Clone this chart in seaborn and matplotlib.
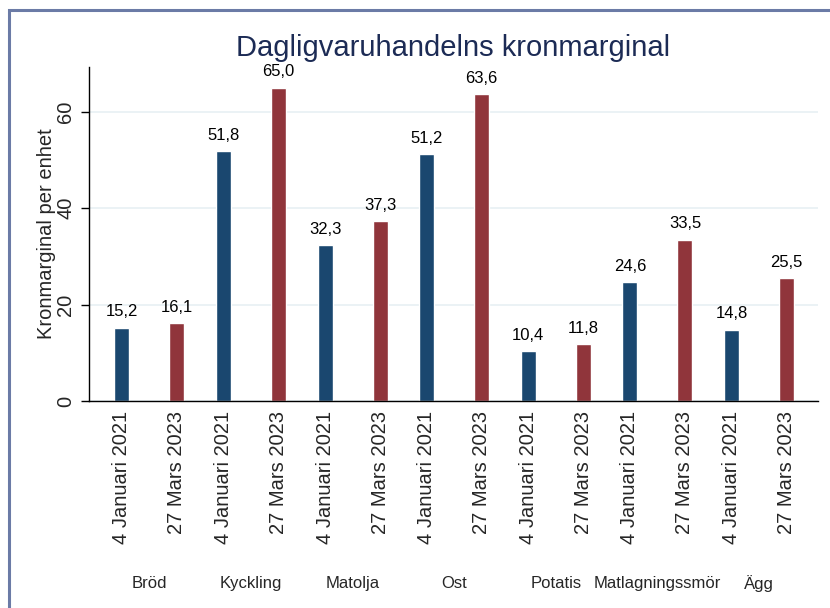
import numpy as np
import pandas as pd
import seaborn as sns
import matplotlib.pyplot as plt
from matplotlib.patches import Rectangle
from matplotlib.transforms import blended_transform_factory

# data
produkter = ["Bröd", "Kyckling", "Matolja", "Ost", "Potatis", "Matlagningssmör", "Ägg"]
datum = ["4 Januari 2021", "27 Mars 2023"]
marginal_2021 = [15.2, 51.8, 32.3, 51.2, 10.4, 24.6, 14.8]
marginal_2023 = [16.1, 65.0, 37.3, 63.6, 11.8, 33.5, 25.5]

df = pd.DataFrame({
    "produkt": produkter * 2,
    "datum": [datum[0]] * len(produkter) + [datum[1]] * len(produkter),
    "marginal": marginal_2021 + marginal_2023,
})

sns.set_style("white")
plt.rcParams["font.family"] = ["Liberation Sans", "DejaVu Sans"]

blue = "#1a476f"
red = "#90353b"

fig = plt.figure(figsize=(8.3, 6.08), dpi=100)
ax = fig.add_axes([0.1072, 0.3405, 0.8783, 0.5493])

sns.barplot(data=df, x="produkt", y="marginal", hue="datum", hue_order=datum,
            order=produkter, palette=[blue, red], width=1.083, gap=0.727,
            saturation=1, legend=False, ax=ax)

ax.set_ylim(0, 69.3)
ax.set_xlim(-0.595, 6.58)

# value labels with decimal comma
for cont in ax.containers:
    vals = [b.get_height() for b in cont]
    ax.bar_label(cont, labels=[f"{v:.1f}".replace(".", ",") for v in vals],
                 padding=6, fontsize=12, color="black")

# date labels under every bar
bars = [p for p in ax.patches if p.get_width() > 0]
pos = sorted(p.get_x() + p.get_width() / 2 for p in bars)
ax.set_xticks(pos)
ax.set_xticklabels([datum[k % 2] for k in range(len(pos))],
                   rotation=90, fontsize=14.5)
ax.tick_params(axis="x", length=0, pad=7)
ax.set_xlabel("")

# group names
trans = blended_transform_factory(ax.transData, fig.transFigure)
for i, name in enumerate(produkter):
    ax.text(i, 0.041, name, transform=trans, ha="center", va="center", fontsize=12)

ax.set_yticks([0, 20, 40, 60])
ax.set_yticklabels(["0", "20", "40", "60"], rotation=90, va="center", fontsize=14.5)
ax.tick_params(axis="y", length=6, width=1, color="black", left=True, pad=4)
ax.set_ylabel("Kronmarginal per enhet", fontsize=14.5, labelpad=0)
ax.yaxis.grid(True, color="#e8f0f3", linewidth=1.2)
ax.set_axisbelow(True)

sns.despine(ax=ax)
for s in ["left", "bottom"]:
    ax.spines[s].set_color("black")
    ax.spines[s].set_linewidth(1)

fig.text(0.546, 0.921, "Dagligvaruhandelns kronmarginal", ha="center", va="center",
         fontsize=21, color="#1c2b55")

fig.patches.append(Rectangle((0.0108, -0.05), 1.1, 0.9836 + 0.05, transform=fig.transFigure,
                             fill=False, edgecolor="#6b7ba6", linewidth=2.2))

fig.savefig("out.png", dpi=100)
